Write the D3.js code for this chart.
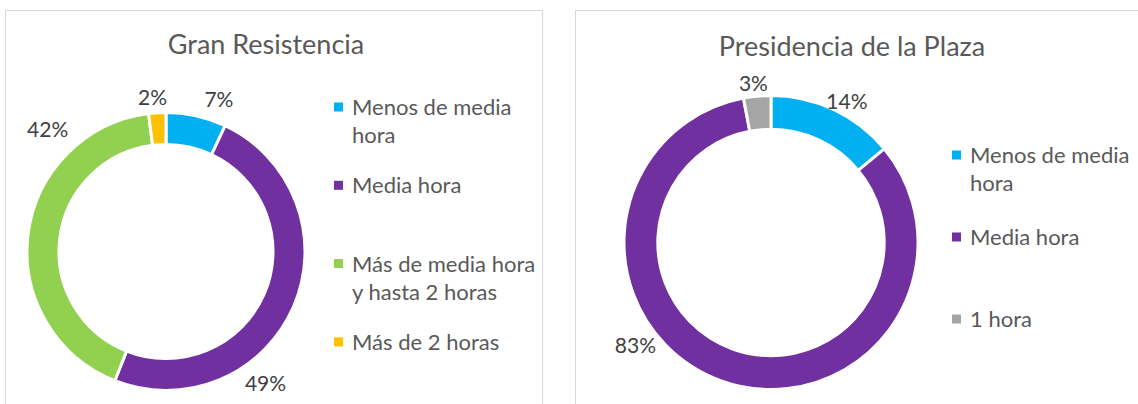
<!DOCTYPE html>
<html>
<head>
<meta charset="utf-8">
<script src="https://cdn.jsdelivr.net/npm/d3@7"></script>
<style>
  body { margin: 0; background: #fff; }
  text { font-family: Lato, "Open Sans", sans-serif; }
</style>
</head>
<body>
<script>
// data
const leftTitle = "Gran Resistencia";
const leftCategories = ["Menos de media hora", "Media hora", "Más de media hora y hasta 2 horas", "Más de 2 horas"];
const leftValues = [7, 49, 42, 2];
const leftColors = ["#00B0F0", "#7030A0", "#92D050", "#FFC000"];

const rightTitle = "Presidencia de la Plaza";
const rightCategories = ["Menos de media hora", "Media hora", "1 hora"];
const rightValues = [14, 83, 3];
const rightColors = ["#00B0F0", "#7030A0", "#A5A5A5"];

// legend line breaks as in the picture
const leftLegendLines = [["Menos de media", "hora"], ["Media hora"], ["Más de media hora", "y hasta 2 horas"], ["Más de 2 horas"]];
const rightLegendLines = [["Menos de media", "hora"], ["Media hora"], ["1 hora"]];

const W = 1138, H = 404;

const svg = d3.select("body").append("svg")
  .attr("width", W)
  .attr("height", H);

// panel frames
svg.append("rect")
  .attr("x", 5.5).attr("y", 10.5)
  .attr("width", 537).attr("height", 420)
  .attr("fill", "none").attr("stroke", "#d9d9d9");
svg.append("rect")
  .attr("x", 575.5).attr("y", 10.5)
  .attr("width", 600).attr("height", 420)
  .attr("fill", "none").attr("stroke", "#d9d9d9");

function donut(cfg) {
  const g = svg.append("g");

  g.append("text")
    .attr("x", cfg.titleX).attr("y", cfg.titleY)
    .attr("text-anchor", "middle")
    .attr("font-size", 27)
    .attr("fill", "#595959")
    .text(cfg.title);

  const pie = d3.pie().sort(null).value(d => d)(cfg.values);
  const arc = d3.arc().innerRadius(cfg.r * 0.77).outerRadius(cfg.r);

  const c = g.append("g").attr("transform", `translate(${cfg.cx},${cfg.cy})`);

  c.selectAll("path")
    .data(pie)
    .enter().append("path")
    .attr("d", arc)
    .attr("fill", (d, i) => cfg.colors[i])
    .attr("stroke", "#fff")
    .attr("stroke-width", 3)
    .attr("stroke-linejoin", "round");

  // data labels (placed where they sit in the picture: angle, distance)
  c.selectAll("text.lbl")
    .data(pie)
    .enter().append("text")
    .attr("class", "lbl")
    .attr("x", (d, i) => cfg.labelPos[i][1] * Math.sin(cfg.labelPos[i][0] * Math.PI / 180))
    .attr("y", (d, i) => -cfg.labelPos[i][1] * Math.cos(cfg.labelPos[i][0] * Math.PI / 180))
    .attr("dy", "0.36em")
    .attr("text-anchor", "middle")
    .attr("font-size", 21)
    .attr("fill", "#404040")
    .text(d => d3.format(".0%")(d.value / 100));

  // legend
  const leg = g.selectAll("g.leg")
    .data(cfg.categories)
    .enter().append("g")
    .attr("class", "leg")
    .attr("transform", (d, i) => `translate(${cfg.legX},${cfg.legY + i * cfg.legStep})`);

  leg.append("rect")
    .attr("x", 0).attr("y", -4.5)
    .attr("width", 9).attr("height", 9)
    .attr("fill", (d, i) => cfg.colors[i]);

  leg.append("text")
    .attr("font-size", 22)
    .attr("fill", "#595959")
    .selectAll("tspan")
    .data((d, i) => cfg.legendLines[i])
    .enter().append("tspan")
    .attr("x", 18)
    .attr("y", (d, j) => j * 28.5)
    .attr("dy", "0.36em")
    .text(d => d);
}

donut({
  title: leftTitle, titleX: 266, titleY: 54,
  categories: leftCategories, values: leftValues, colors: leftColors,
  legendLines: leftLegendLines,
  cx: 166, cy: 251.5, r: 139,
  labelPos: [[19.2, 161], [142.9, 165], [315.9, 170], [355, 155]],
  legX: 334, legY: 107, legStep: 78.3
});

donut({
  title: rightTitle, titleX: 852, titleY: 56,
  categories: rightCategories, values: rightValues, colors: rightColors,
  legendLines: rightLegendLines,
  cx: 771, cy: 242.5, r: 147,
  labelPos: [[28.2, 160.6], [232.9, 170], [353.7, 160.5]],
  legX: 952, legY: 155, legStep: 82
});
</script>
</body>
</html>
